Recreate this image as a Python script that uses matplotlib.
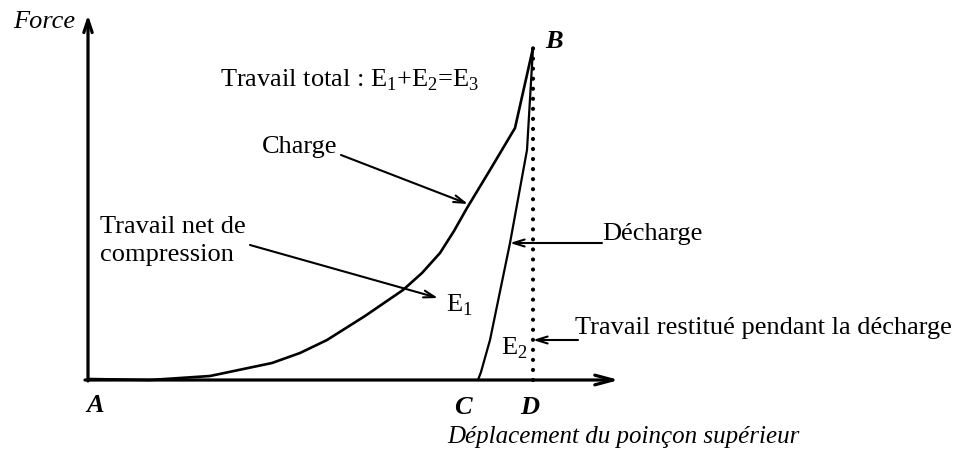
import matplotlib
matplotlib.use("Agg")
import matplotlib.pyplot as plt

# Schematic data (displacement, force) in arbitrary units, origin at A
charge_x = [0, 62, 122, 184, 212, 239, 277, 315, 334, 352, 366, 379, 402, 427, 445]
charge_y = [1, 0, 4, 17, 27, 40, 64, 90, 107, 127, 149, 172, 210, 252, 332]
decharge_x = [390, 393, 402, 422, 439, 445]
decharge_y = [0, 8, 40, 137, 230, 332]
point_labels = ["A", "B", "C", "D"]
point_x = [0, 445, 390, 445]
point_y = [0, 332, 0, 0]

plt.rcParams['font.family'] = ['Liberation Serif', 'DejaVu Serif']
fig = plt.figure(figsize=(9.72, 4.54), dpi=100)
ax = fig.add_axes([0, 0, 1, 1])
ax.set_xlim(-88, 884)
ax.set_ylim(-74, 380)
ax.axis('off')

fs = 19
# Axes with arrows
ax.annotate('', xy=(0, 365), xytext=(0, -1),
            arrowprops=dict(arrowstyle='->,head_length=0.9,head_width=0.3', lw=2.3, color='black', shrinkA=0, shrinkB=0))
ax.annotate('', xy=(531, 0), xytext=(-3, 0),
            arrowprops=dict(arrowstyle='->,head_length=1.3,head_width=0.35', lw=2.3, color='black', shrinkA=0, shrinkB=0))

# Curves
ax.plot(charge_x, charge_y, color='black', lw=1.9, solid_joinstyle='round')
ax.plot(decharge_x, decharge_y, color='black', lw=1.6)
ax.plot([point_x[3], point_x[1]], [point_y[3], point_y[1]], color='black', lw=3.0,
        linestyle=(0, (0.01, 2.4)), dash_capstyle='round')

# Point labels
ax.text(point_x[0] + 7, -25, point_labels[0], fontsize=fs, fontstyle='italic', fontweight='bold', ha='center', va='center')
ax.text(point_x[1] + 21, 339, point_labels[1], fontsize=fs, fontstyle='italic', fontweight='bold', ha='center', va='center')
ax.text(point_x[2] - 15, -27, point_labels[2], fontsize=fs, fontstyle='italic', fontweight='bold', ha='center', va='center')
ax.text(point_x[3] - 3, -27, point_labels[3], fontsize=fs, fontstyle='italic', fontweight='bold', ha='center', va='center')

# Axis titles
ax.text(-13, 358, 'Force', fontsize=fs, fontstyle='italic', ha='right', va='center')
ax.text(359, -57, 'Déplacement du poinçon supérieur', fontsize=18, fontstyle='italic', ha='left', va='center')

# Annotations
ax.text(132, 300, 'Travail total : E$_\\mathregular{1}$+E$_\\mathregular{2}$=E$_\\mathregular{3}$', fontsize=fs, ha='left', va='center')
ax.text(174, 233, 'Charge', fontsize=fs, ha='left', va='center')
ax.annotate('', xy=(380, 176), xytext=(253, 225),
            arrowprops=dict(arrowstyle='->,head_length=0.8,head_width=0.25', lw=1.5, color='black', shrinkA=0, shrinkB=0))
ax.text(12, 139, 'Travail net de\ncompression', fontsize=fs, ha='left', va='center', linespacing=1.3)
ax.annotate('', xy=(350, 82), xytext=(162, 135),
            arrowprops=dict(arrowstyle='->,head_length=0.8,head_width=0.25', lw=1.5, color='black', shrinkA=0, shrinkB=0))
ax.text(358, 75, 'E$_\\mathregular{1}$', fontsize=fs, ha='left', va='center')
ax.text(514, 146, 'Décharge', fontsize=fs, ha='left', va='center')
ax.annotate('', xy=(422, 137), xytext=(514, 137),
            arrowprops=dict(arrowstyle='->,head_length=0.8,head_width=0.25', lw=1.5, color='black', shrinkA=0, shrinkB=0))
ax.text(413, 32, 'E$_\\mathregular{2}$', fontsize=fs, ha='left', va='center')
ax.text(487, 52, 'Travail restitué pendant la décharge', fontsize=fs, ha='left', va='center')
ax.annotate('', xy=(445, 40), xytext=(490, 40),
            arrowprops=dict(arrowstyle='->,head_length=0.8,head_width=0.25', lw=1.5, color='black', shrinkA=0, shrinkB=0))

fig.savefig('out.png', dpi=100)
